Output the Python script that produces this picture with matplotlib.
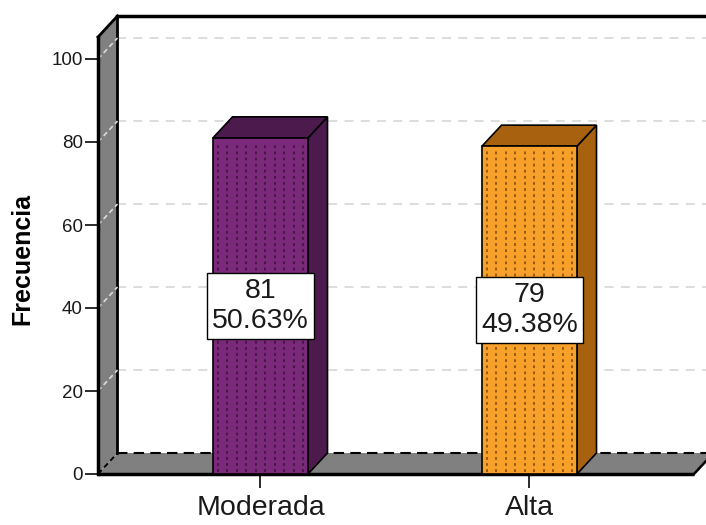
import matplotlib
matplotlib.use("Agg")
import matplotlib.pyplot as plt
from matplotlib.patches import Polygon, Rectangle

plt.rcParams['font.family'] = ['Liberation Sans', 'DejaVu Sans']

# ---- data ----
categories = ["Moderada", "Alta"]
counts = [81, 79]
percents = [50.63, 49.38]
yticks = [0, 20, 40, 60, 80, 100]
front_colors = ["#7b2a7b", "#f7a02a"]
dark_colors = ["#4d1a4d", "#a8620f"]
dot_colors = ["#3a0f3a", "#7a4808"]

W, H = 706, 525
fig = plt.figure(figsize=(W / 100, H / 100), dpi=100)
ax = fig.add_axes([0, 0, 1, 1])

# pixel <-> data mapping
c0, k = 260.5, 269.0        # x: pixel = c0 + k*x
y0, s = 474.0, 4.15         # y (from top): pixel = y0 - s*v
ax.set_xlim(-c0 / k, (W - c0) / k)
ax.set_ylim(-(H - y0) / s, y0 / s)

def X(px):
    return (px - c0) / k

def Y(py):
    return (y0 - py) / s

DX = 19.5 / k
DY = 21.0 / s
xL = X(98)
xR = X(694)
top_front = Y(37)

# back wall gridlines
for v in yticks[1:]:
    ax.plot([xL + DX, X(W + 5)], [v + DY, v + DY], color="#dadada", lw=1.3,
            ls=(0, (5, 4)), zorder=1, clip_on=False)
# top border of back wall
ax.plot([xL + DX, X(W + 5)], [top_front + DY, top_front + DY], color="black",
        lw=2.5, zorder=2, clip_on=False)

# floor
floor = Polygon([(xL, 0), (xR, 0), (xR + DX, DY), (xL + DX, DY)],
                closed=True, facecolor="#808080", edgecolor="none", zorder=2)
ax.add_patch(floor)
ax.plot([xL, xR], [0, 0], color="black", lw=2.5, zorder=3, solid_capstyle="butt")
ax.plot([xR, xR + DX], [0, DY], color="black", lw=1.8, zorder=3)
ax.plot([xL + DX, xR + DX], [DY, DY], color="black", lw=1.5, ls=(0, (5, 3)), zorder=3)
ax.plot([xL, xL + DX], [0, DY], color="black", lw=1.3, ls=(0, (3, 2)), zorder=3)

# left wall
wall = Polygon([(xL, 0), (xL, top_front), (xL + DX, top_front + DY), (xL + DX, DY)],
               closed=True, facecolor="#808080", edgecolor="none", zorder=2)
ax.add_patch(wall)
ax.plot([xL + DX, xL + DX], [DY, top_front + DY], color="black", lw=2.0, zorder=3)
ax.plot([xL, xL + DX], [top_front, top_front + DY], color="black", lw=2.0, zorder=3)
for v in yticks[1:]:
    ax.plot([xL, xL + DX], [v, v + DY], color="#dcdcdc", lw=1.2,
            ls=(0, (3, 2)), zorder=3)

# bars
bw = 95.0 / k
for i, (cat, v) in enumerate(zip(categories, counts)):
    xl, xr = i - bw / 2, i + bw / 2
    side = Polygon([(xr, 0), (xr + DX, DY), (xr + DX, v + DY), (xr, v)], closed=True,
                   facecolor=dark_colors[i], edgecolor="black", lw=1.2, zorder=4)
    top = Polygon([(xl, v), (xr, v), (xr + DX, v + DY), (xl + DX, v + DY)], closed=True,
                  facecolor=dark_colors[i], edgecolor="black", lw=1.2, zorder=4)
    front = Rectangle((xl, 0), bw, v, facecolor=front_colors[i], edgecolor="black",
                      lw=1.2, zorder=5)
    ax.add_patch(side)
    ax.add_patch(top)
    ax.add_patch(front)
    n = 10
    for j in range(n):
        xx = xl + (j + 0.5) * bw / n
        ax.plot([xx, xx], [0.6, v - 1.2], color=dot_colors[i], lw=1.1,
                ls=(0, (1.8, 2.2)), zorder=6)
    ax.text(i, v / 2, f"{v}\n{percents[i]:.2f}%", ha="center", va="center",
            fontsize=20.5, linespacing=1.2, color="#1a1a1a", zorder=8,
            bbox=dict(boxstyle="square,pad=0.18", facecolor="white",
                      edgecolor="black", lw=1.0))

# axes / ticks
for sp in ["top", "right"]:
    ax.spines[sp].set_visible(False)
ax.spines["left"].set_position(("data", xL))
ax.spines["left"].set_bounds(0, top_front)
ax.spines["left"].set_linewidth(2.5)
ax.spines["left"].set_zorder(3)
ax.spines["bottom"].set_position(("data", 0))
ax.spines["bottom"].set_color("none")
ax.set_yticks(yticks)
ax.set_yticklabels([str(t) for t in yticks])
ax.tick_params(axis="y", direction="out", length=9.5, width=1.3, pad=1.5,
               labelsize=13.5, colors="#1a1a1a")
ax.set_xticks(range(len(categories)))
ax.set_xticklabels(categories)
ax.tick_params(axis="x", direction="out", length=10, width=1.3, pad=5,
               labelsize=20.5, colors="#1a1a1a")

fig.text(22 / W, 1 - 259 / H, "Frecuencia", rotation=90, ha="center", va="center",
         fontsize=18, fontweight="bold", color="black")

fig.savefig("out.png", dpi=100)
